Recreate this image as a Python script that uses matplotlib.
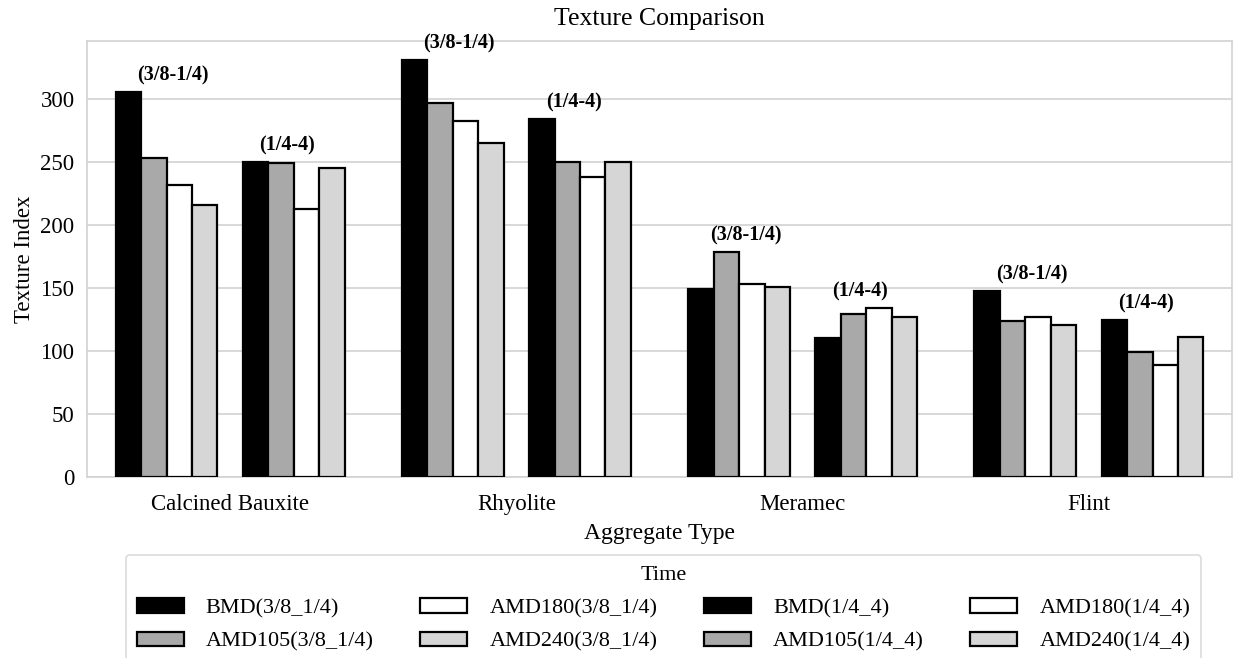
import numpy as np
import matplotlib
matplotlib.use("Agg")
import matplotlib.pyplot as plt

plt.rcParams['font.family'] = ['Liberation Serif', 'DejaVu Serif']

# Aggregates and texture index per size fraction / polishing stage
aggregates = ["Calcined Bauxite", "Rhyolite", "Meramec", "Flint"]
stages = ["BMD", "AMD105", "AMD180", "AMD240"]

coarse_38_14 = {
    "BMD":    [306, 331, 149, 148],
    "AMD105": [253, 297, 179, 124],
    "AMD180": [232, 283, 153, 127],
    "AMD240": [216, 265, 151, 121],
}
fine_14_4 = {
    "BMD":    [250, 284, 110, 125],
    "AMD105": [249, 250, 129, 99],
    "AMD180": [213, 238, 134, 89],
    "AMD240": [245, 250, 127, 111],
}

fractions = [("3/8_1/4", "(3/8-1/4)", coarse_38_14),
             ("1/4_4", "(1/4-4)", fine_14_4)]

fills = {"BMD": "#000000", "AMD105": "#a9a9a9",
         "AMD180": "#ffffff", "AMD240": "#d6d6d6"}

fig = plt.figure(figsize=(12.38, 6.58), dpi=100)
ax = fig.add_axes([0.0703, 0.2751, 0.9249, 0.6633])

x = np.arange(len(aggregates))
slot = 0.8 / 9  # 4 bars, one empty slot, 4 bars
handles = []
for f, (tag, note, data) in enumerate(fractions):
    for i, st in enumerate(stages):
        pos = x - 0.4 + slot * (f * 5 + i + 0.5)
        b = ax.bar(pos, data[st], width=slot, color=fills[st],
                   edgecolor="black", linewidth=1.6, zorder=3,
                   label=f"{st}({tag})")
        handles.append(b)
    # size fraction note above each group of four
    tops = np.max([data[st] for st in stages], axis=0)
    off = -0.2 if f == 0 else 0.2
    for xi, t in zip(x, tops):
        ax.text(xi + off, t + 13, note, ha="center", va="center",
                fontsize=14.5, fontweight="bold", zorder=4, clip_on=False)

ax.set_xlim(-0.5, len(aggregates) - 0.5)
ax.set_ylim(0, 346.5)
ax.set_xticks(x)
ax.set_xticklabels(aggregates)
ax.set_yticks(np.arange(0, 301, 50))
ax.tick_params(axis="both", length=0, labelsize=16.5)
ax.tick_params(axis="y", pad=9)
ax.tick_params(axis="x", pad=12)
ax.grid(axis="y", color="#d2d2d2", linewidth=1.2, zorder=0)
ax.set_axisbelow(True)
for sp in ax.spines.values():
    sp.set_color("#d2d2d2")
    sp.set_linewidth(1.2)

ax.set_title("Texture Comparison", fontsize=18.5, pad=11)
ax.set_xlabel("Aggregate Type", fontsize=17, labelpad=6)
ax.set_ylabel("Texture Index", fontsize=16.5, labelpad=4)

leg = fig.legend(handles=handles, title="Time", ncol=4, loc="upper center",
                 bbox_to_anchor=(0.536, 0.174), fontsize=16,
                 title_fontsize=16, handlelength=2.1, handleheight=0.65,
                 handletextpad=1.0, columnspacing=2.1, labelspacing=0.6,
                 frameon=True, fancybox=True, borderpad=0.5)
leg.get_frame().set_edgecolor("#d2d2d2")
leg.get_frame().set_linewidth(1.2)

fig.savefig("out.png", dpi=100)
